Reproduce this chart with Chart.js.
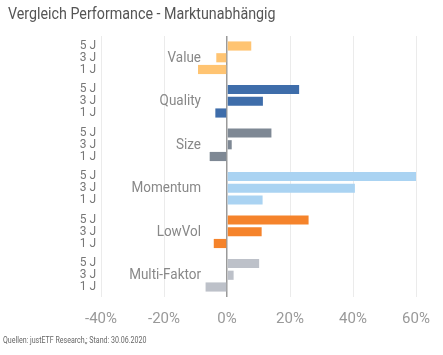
<!DOCTYPE html>
<html>
<head>
<meta charset="utf-8">
<script src="https://cdn.jsdelivr.net/npm/chart.js@4"></script>
<style>
  html, body { margin: 0; padding: 0; background: #fff; }
  #wrap { position: relative; width: 443px; height: 355px; overflow: hidden; }
  canvas { position: absolute; left: 0; top: 0; }
  .title { position: absolute; left: 8px; top: 6px; font-family: Roboto, sans-serif; font-size: 16.5px; line-height: 16.5px; color: #555; white-space: nowrap; transform: scaleX(0.865); transform-origin: left top; }
  .source { position: absolute; left: 3px; top: 336px; font-family: Roboto, sans-serif; font-size: 8.5px; line-height: 8.5px; color: #666; white-space: nowrap; transform: scaleX(0.83); transform-origin: left top; }
</style>
</head>
<body>
<div id="wrap">
  <canvas id="c" width="443" height="355"></canvas>
  <div class="title">Vergleich Performance - Marktunabhängig</div>
  <div class="source">Quellen: justETF Research,; Stand: 30.06.2020</div>
</div>
<script>
const categories = ["Value", "Quality", "Size", "Momentum", "LowVol", "Multi-Faktor"];
const periodLabels = ["5 J", "3 J", "1 J"];
const perf5J = [7.7, 22.9, 14.1, 60.1, 25.9, 10.2];
const perf3J = [-3.4, 11.4, 1.5, 40.6, 11.0, 2.1];
const perf1J = [-9.2, -3.7, -5.5, 11.3, -4.2, -6.8];
const factorColors = ["#FFC472", "#3E6DAA", "#7E8894", "#AAD3F2", "#F5832B", "#BDC1C9"];

const FONT = 'Roboto, sans-serif';

const categoryNames = {
  id: 'categoryNames',
  afterDatasetsDraw(chart) {
    const {ctx, scales: {x, y}} = chart;
    ctx.font = '15.5px ' + FONT;
    ctx.fillStyle = '#888';
    ctx.textAlign = 'right';
    ctx.textBaseline = 'middle';
    categories.forEach((c, i) => {
      ctx.save();
      ctx.translate(x.getPixelForValue(0) - 26, y.getPixelForValue(i));
      ctx.scale(0.87, 1);
      ctx.fillText(c, 0, 0);
      ctx.restore();
    });
  }
};

new Chart(document.getElementById('c'), {
  type: 'bar',
  data: {
    labels: categories.map(() => periodLabels),
    datasets: [
      { label: periodLabels[0], data: perf5J, backgroundColor: factorColors },
      { label: periodLabels[1], data: perf3J, backgroundColor: factorColors },
      { label: periodLabels[2], data: perf1J, backgroundColor: factorColors }
    ]
  },
  options: {
    indexAxis: 'y',
    responsive: false,
    animation: false,
    categoryPercentage: 0.81,
    barPercentage: 0.78,
    layout: { padding: { top: 36, right: 27, bottom: 27, left: 0 } },
    plugins: { legend: { display: false }, tooltip: { enabled: false } },
    scales: {
      x: {
        min: -40, max: 60,
        ticks: {
          stepSize: 20,
          padding: 13,
          color: '#999',
          font: { family: FONT, size: 15 },
          callback: v => v + '%'
        },
        grid: {
          drawTicks: false,
          color: ctx => ctx.tick && ctx.tick.value === 0 ? '#9a9a9a' : '#ebebeb',
          lineWidth: ctx => ctx.tick && ctx.tick.value === 0 ? 1.5 : 1
        },
        border: { display: false },
        afterFit: s => { s.height = 31; }
      },
      y: {
        ticks: {
          color: '#777',
          padding: 5,
          font: { family: FONT, size: 12, lineHeight: 1 }
        },
        grid: { display: false, drawTicks: false },
        border: { display: false },
        afterFit: s => { s.width = 101; s.paddingTop = 0; s.paddingBottom = 0; }
      }
    }
  },
  plugins: [categoryNames]
});
</script>
</body>
</html>
